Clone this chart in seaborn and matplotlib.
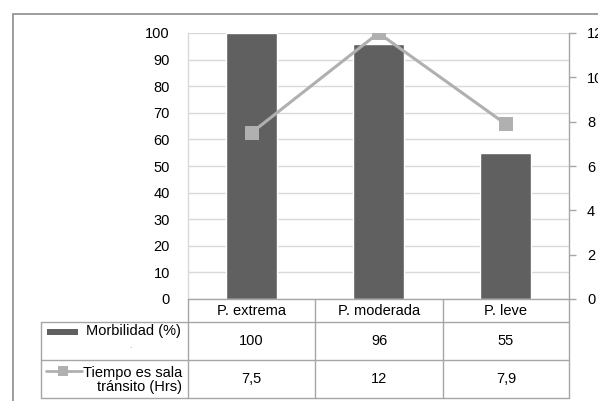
import matplotlib
matplotlib.use("Agg")
import matplotlib.pyplot as plt
from matplotlib.lines import Line2D
from matplotlib.patches import Rectangle
import seaborn as sns
import pandas as pd

categories = ["P. extrema", "P. moderada", "P. leve"]
morbilidad = [100, 96, 55]
tiempo = [7.5, 12, 7.9]
series_names = ["Morbilidad (%)", "Tiempo es sala\ntránsito (Hrs)"]
left_ticks = list(range(0, 101, 10))
right_ticks = list(range(0, 13, 2))

sns.set_theme(style="white")
plt.rcParams["font.family"] = ["Liberation Sans", "DejaVu Sans"]

BAR = "#606060"
LINE = "#b0b0b0"
GRID = "#d9d9d9"
EDGE = "#a6a6a6"
TXT = "#000000"
FS = 10.5

W, H = 598, 401
fig = plt.figure(figsize=(W / 100, H / 100), dpi=100)
fig.patch.set_facecolor("white")


def fx(x):
    return x / W


def fy(y):
    return 1 - y / H


# plot area in pixel terms
L, R, T, B = 188, 569, 33, 299
ax = fig.add_axes([fx(L), fy(B), (R - L) / W, (B - T) / H])

df = pd.DataFrame({"cat": categories, "morb": morbilidad, "tiempo": tiempo})
sns.barplot(data=df, x="cat", y="morb", color=BAR, width=0.40,
            saturation=1, ax=ax, zorder=2)
ax.set_ylim(0, 100)
ax.set_yticks(left_ticks)
ax.set_xlim(-0.5, 2.5)
ax.set_xlabel("")
ax.set_ylabel("")
ax.set_xticks([])
ax.yaxis.grid(True, color=GRID, linewidth=1)
ax.set_axisbelow(True)
ax.tick_params(axis="y", length=0, pad=13, labelsize=FS, labelcolor=TXT)
for s in ["top", "right", "bottom"]:
    ax.spines[s].set_visible(False)
ax.spines["left"].set_color(GRID)
ax.spines["left"].set_linewidth(1)

ax2 = ax.twinx()
sns.lineplot(data=df, x="cat", y="tiempo", color=LINE, linewidth=2.2,
             marker="s", markersize=10, markeredgewidth=0,
             ax=ax2, zorder=3, sort=False)
ax2.set_ylim(0, 12)
ax2.set_yticks(right_ticks)
ax2.set_xlim(-0.5, 2.5)
ax2.set_xlabel("")
ax2.set_ylabel("")
ax2.set_xticks([])
ax2.tick_params(axis="y", length=5, width=1, color=EDGE, pad=8,
                labelsize=FS, labelcolor=TXT, direction="out")
for s in ["top", "left", "bottom"]:
    ax2.spines[s].set_visible(False)
ax2.spines["right"].set_color(EDGE)
ax2.spines["right"].set_linewidth(1)


def hline(x0, x1, y, color=EDGE, lw=1):
    fig.add_artist(Line2D([fx(x0), fx(x1)], [fy(y), fy(y)],
                          transform=fig.transFigure, color=color, lw=lw))


def vline(x, y0, y1, color=EDGE, lw=1):
    fig.add_artist(Line2D([fx(x), fx(x)], [fy(y0), fy(y1)],
                          transform=fig.transFigure, color=color, lw=lw))


# outer chart border
fig.add_artist(Rectangle((fx(13), fy(460)), fx(700), fy(14) - fy(460),
                         transform=fig.transFigure, fill=False,
                         edgecolor="#8c8c8c", lw=1.2))

# data table grid
cols = [188, 315, 443, 569]
rows = [299, 322, 360, 398]
hline(188, 569, 299)
for y in rows[1:]:
    hline(41, 569, y)
vline(41, 322, 398)
for x in cols:
    vline(x, 299, 398)

centers = [(cols[i] + cols[i + 1]) / 2 for i in range(3)]
for cx, c in zip(centers, categories):
    fig.text(fx(cx), fy(311), c, ha="center", va="center", fontsize=FS, color=TXT)


def fmt(v):
    return f"{v:g}".replace(".", ",")


for cx, v in zip(centers, morbilidad):
    fig.text(fx(cx), fy(341), fmt(v), ha="center", va="center", fontsize=FS, color=TXT)
for cx, v in zip(centers, tiempo):
    fig.text(fx(cx), fy(379), fmt(v), ha="center", va="center", fontsize=FS, color=TXT)

# legend keys inside the table
fig.add_artist(Rectangle((fx(47), fy(335)), fx(31), fy(329) - fy(335),
                         transform=fig.transFigure, color=BAR, lw=0))
fig.text(fx(181), fy(331), series_names[0], ha="right", va="center",
         fontsize=FS, color=TXT)
fig.text(fx(130), fy(346), ".", ha="center", va="center", fontsize=6, color="#777777")

fig.add_artist(Line2D([fx(46), fx(82)], [fy(371), fy(371)],
                      transform=fig.transFigure, color=LINE, lw=2))
fig.add_artist(Line2D([fx(63)], [fy(371)], transform=fig.transFigure,
                      color=LINE, marker="s", markersize=7, markeredgewidth=0))
fig.text(fx(182), fy(380), series_names[1], ha="right", va="center",
         fontsize=FS, color=TXT, linespacing=1.0, multialignment="right")

fig.savefig("out.png", dpi=100, facecolor="white")
